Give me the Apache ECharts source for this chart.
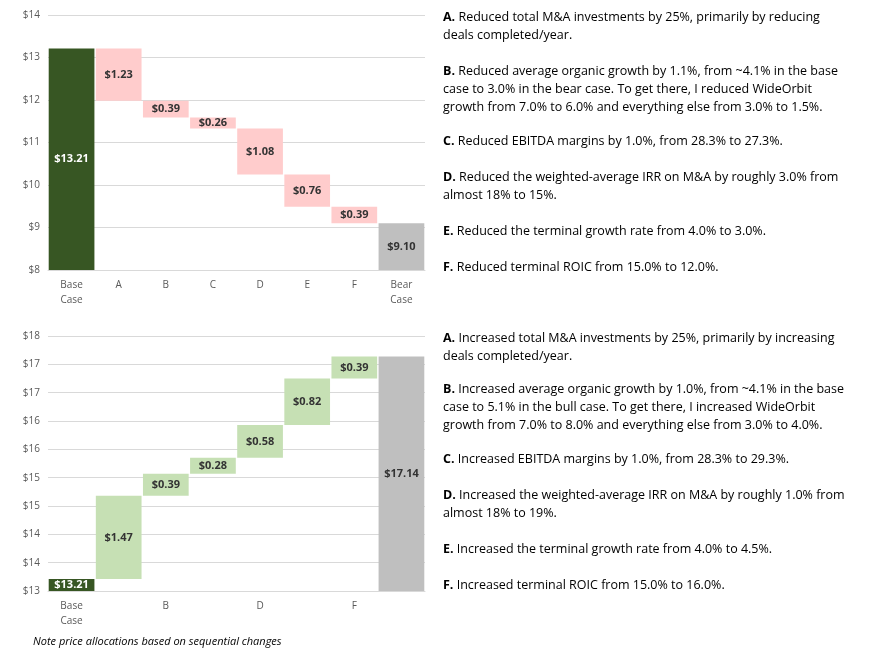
<!DOCTYPE html>
<html><head><meta charset="utf-8">
<script src="https://cdn.jsdelivr.net/npm/echarts@6/dist/echarts.min.js"></script>
<style>html,body{margin:0;padding:0;background:#fff}#c{width:884px;height:658px}</style>
</head><body><div id="c"></div>
<script>
const catsBear = ["Base\nCase","A","B","C","D","E","F","Bear\nCase"];
const bearBase = 13.21, bearDeltas = [1.23,0.39,0.26,1.08,0.76,0.39], bearEnd = 9.10;
const catsBull = ["Base\nCase","A","B","C","D","E","F","Bull Case"];
const bullBase = 13.21, bullDeltas = [1.47,0.39,0.28,0.58,0.82,0.39], bullEnd = 17.14;
const bearNotes = [
 ["A.","Reduced total M&A investments by 25%, primarily by reducing\ndeals completed/year."],
 ["B.","Reduced average organic growth by 1.1%, from ~4.1% in the base\ncase to 3.0% in the bear case. To get there, I reduced WideOrbit\ngrowth from 7.0% to 6.0% and everything else from 3.0% to 1.5%."],
 ["C.","Reduced EBITDA margins by 1.0%, from 28.3% to 27.3%."],
 ["D.","Reduced the weighted-average IRR on M&A by roughly 3.0% from\nalmost 18% to 15%."],
 ["E.","Reduced the terminal growth rate from 4.0% to 3.0%."],
 ["F.","Reduced terminal ROIC from 15.0% to 12.0%."]];
const bullNotes = [
 ["A.","Increased total M&A investments by 25%, primarily by increasing\ndeals completed/year."],
 ["B.","Increased average organic growth by 1.0%, from ~4.1% in the base\ncase to 5.1% in the bull case. To get there, I increased WideOrbit\ngrowth from 7.0% to 8.0% and everything else from 3.0% to 4.0%."],
 ["C.","Increased EBITDA margins by 1.0%, from 28.3% to 29.3%."],
 ["D.","Increased the weighted-average IRR on M&A by roughly 1.0% from\nalmost 18% to 19%."],
 ["E.","Increased the terminal growth rate from 4.0% to 4.5%."],
 ["F.","Increased terminal ROIC from 15.0% to 16.0%."]];
const bearNoteY=[8,62,132,168,222,258], bullNoteY=[329,380,450,486,540,576];

const DG="#375623", PINK="#FFCCCC", GREEN="#C6E0B4", GRAY="#BFBFBF";
function build(base, deltas, end, sign, axisMin, up){
  const inv=[], vis=[];
  inv.push(0); vis.push({value:base-axisMin, real:base, itemStyle:{color:DG}, label:{color:'#fff'}});
  let cur=base;
  deltas.forEach(d=>{
    const next = cur + sign*d;
    inv.push(Math.min(cur,next)-axisMin);
    vis.push({value:d, real:d, itemStyle:{color:up?GREEN:PINK}});
    cur=next;
  });
  inv.push(0); vis.push({value:end-axisMin, real:end, itemStyle:{color:GRAY}});
  return [inv,vis];
}
const [bi,bv]=build(bearBase,bearDeltas,bearEnd,-1,8,false);
const [ui,uv]=build(bullBase,bullDeltas,bullEnd,1,13,true);
const lbl={show:true,position:'inside',fontWeight:'bold',fontSize:11,color:'#333',fontFamily:'Open Sans',formatter:p=>'$'+p.data.real.toFixed(2)};
const xa=(cats,i)=>({type:'category',gridIndex:i,data:cats,axisTick:{show:false},axisLine:{lineStyle:{color:'#d9d9d9'}},axisLabel:{color:'#595959',fontSize:10,fontFamily:'Open Sans',lineHeight:15}});
const ya=(i,min,max,iv)=>({type:'value',gridIndex:i,min:0,max:max-min,interval:iv,axisLabel:{color:'#595959',fontSize:10,fontFamily:'Open Sans',formatter:v=>'$'+(v+min).toFixed(0)},splitLine:{lineStyle:{color:'#d9d9d9'}}});
const texts=[];
function notes(arr,ys){arr.forEach((n,i)=>texts.push({type:'text',left:443,top:ys[i],style:{text:'{b|'+n[0]+'} '+n[1],rich:{b:{fontWeight:'bold',fontSize:12.5,fontFamily:'Open Sans',fill:'#000'}},fontSize:12.5,fontFamily:'Open Sans',fill:'#000',lineHeight:18}}));}
notes(bearNotes,bearNoteY); notes(bullNotes,bullNoteY);
texts.push({type:'text',left:33,top:636,style:{text:'Note price allocations based on sequential changes',fontStyle:'italic',fontSize:11,fontFamily:'Open Sans',fill:'#000'}});
const chart=echarts.init(document.getElementById('c'));
chart.setOption({
  animation:false,
  grid:[{left:48,top:15,width:377,height:255},{left:48,top:336,width:377,height:255}],
  xAxis:[xa(catsBear,0),xa(catsBull,1)],
  yAxis:[ya(0,8,14,1),ya(1,13,17.5,0.5)],
  series:[
    {type:'bar',stack:'a',xAxisIndex:0,yAxisIndex:0,data:bi,itemStyle:{color:'transparent'},barCategoryGap:'3%',silent:true},
    {type:'bar',stack:'a',xAxisIndex:0,yAxisIndex:0,data:bv,label:lbl,barCategoryGap:'3%'},
    {type:'bar',stack:'b',xAxisIndex:1,yAxisIndex:1,data:ui,itemStyle:{color:'transparent'},barCategoryGap:'3%',silent:true},
    {type:'bar',stack:'b',xAxisIndex:1,yAxisIndex:1,data:uv,label:lbl,barCategoryGap:'3%'}
  ],
  graphic:texts
});
</script></body></html>
